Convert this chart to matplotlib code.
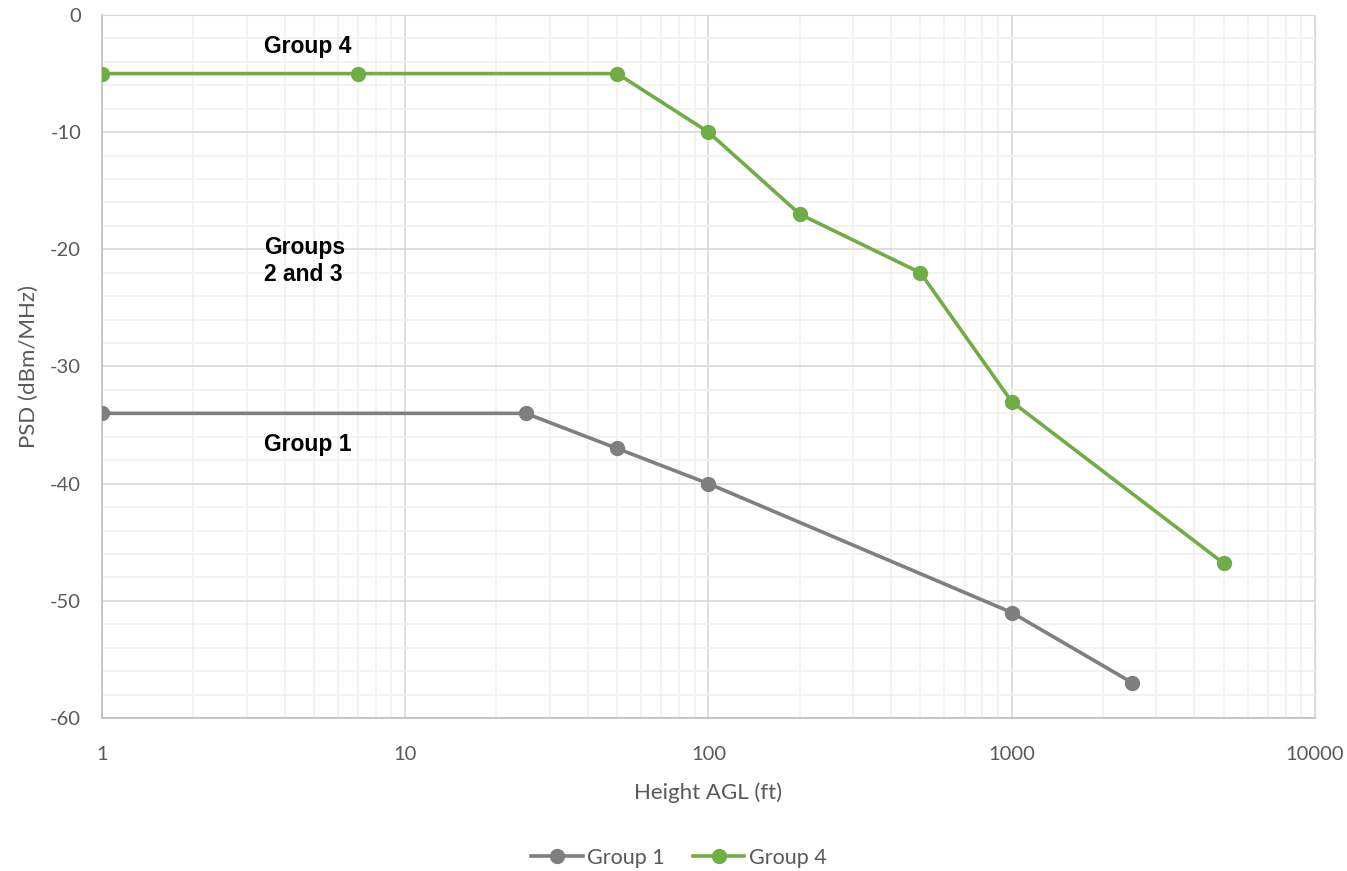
import numpy as np
import matplotlib
matplotlib.use('Agg')
import matplotlib.pyplot as plt
from matplotlib.ticker import LogLocator, MultipleLocator, FixedLocator, NullFormatter

# data
h_g1 = [1, 25, 50, 100, 1000, 2500]
psd_g1 = [-34, -34, -37, -40, -51, -57]
h_g4 = [1, 7, 50, 100, 200, 500, 1000, 5000]
psd_g4 = [-5, -5, -5, -10, -17, -22, -33, -46.8]
x_ticks = [1, 10, 100, 1000, 10000]
x_ticklabels = ['1', '10', '100', '1000', '10000']

gray = '#7f7f7f'
green = '#70ad47'
txt = '#595959'

plt.rcParams['font.family'] = ['Lato', 'DejaVu Sans']
plt.rcParams['axes.unicode_minus'] = False

fig = plt.figure(figsize=(13.47, 8.71), dpi=100)
ax = fig.add_axes([0.0757, 0.1757, 0.9005, 0.8071])

ax.plot(h_g1, psd_g1, color=gray, lw=2.6, marker='o', ms=10, label='Group 1', zorder=3)
ax.plot(h_g4, psd_g4, color=green, lw=2.6, marker='o', ms=10, label='Group 4', zorder=3)

ax.set_xscale('log')
ax.set_xlim(1, 10000)
ax.set_ylim(-60, 0)
ax.xaxis.set_major_locator(FixedLocator(x_ticks))
ax.set_xticklabels(x_ticklabels)
ax.xaxis.set_minor_locator(LogLocator(base=10, subs=np.arange(2, 10)))
ax.xaxis.set_minor_formatter(NullFormatter())
ax.yaxis.set_major_locator(MultipleLocator(10))
ax.yaxis.set_minor_locator(MultipleLocator(2))

ax.grid(which='major', color='#d9d9d9', lw=1.2)
ax.grid(which='minor', color='#f0f0f0', lw=1.2)
ax.set_axisbelow(True)
for s in ['top', 'right']:
    ax.spines[s].set_color('#d9d9d9')
for s in ['left', 'bottom']:
    ax.spines[s].set_color('#bfbfbf')
    ax.spines[s].set_linewidth(1.2)
ax.tick_params(which='both', length=0, colors=txt, labelsize=14.5)
ax.tick_params(axis='x', pad=20)
ax.tick_params(axis='y', pad=15)

ax.set_xlabel('Height AGL (ft)', fontsize=16, color=txt, labelpad=14)
ax.set_ylabel('PSD (dBm/MHz)', fontsize=16, color=txt, labelpad=8)

lab = dict(fontsize=16.5, fontweight='bold', family='Liberation Sans', ha='left', va='center')
ax.text(3.42, -2.7, 'Group 4', **lab)
ax.text(3.42, -21.0, 'Groups\n2 and 3', linespacing=1.2, **lab)
ax.text(3.42, -36.7, 'Group 1', **lab)

leg = fig.legend(loc='center', bbox_to_anchor=(0.504, 0.015), ncol=2, frameon=False,
                 fontsize=15.5, handlelength=2.4, columnspacing=1.3, handletextpad=0.2)
for t in leg.get_texts():
    t.set_color(txt)

fig.savefig('out.png', dpi=100)
